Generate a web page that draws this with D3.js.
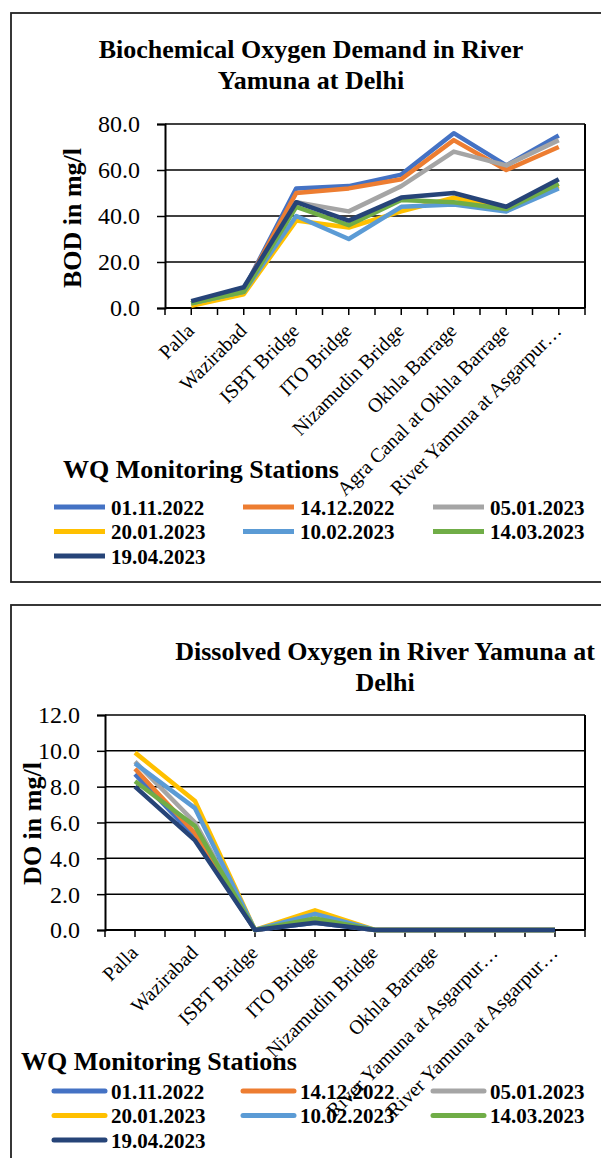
<!DOCTYPE html>
<html>
<head>
<meta charset="utf-8">
<script src="https://cdn.jsdelivr.net/npm/d3@7"></script>
<style>
  html, body { margin: 0; padding: 0; background: #fff; overflow: hidden; }
  text { font-family: "Liberation Serif", "Times New Roman", serif; fill: #000; }
</style>
</head>
<body>
<div id="root"></div>
<script>
const width = 601;
const height = 1158;

// sampling dates (legend)
const dates = ['01.11.2022', '14.12.2022', '05.01.2023', '20.01.2023', '10.02.2023', '14.03.2023', '19.04.2023'];
const colors = ['#4472C4', '#ED7D31', '#A5A5A5', '#FFC000', '#5B9BD5', '#70AD47', '#264478'];

// BOD chart
const bodStations = ['Palla', 'Wazirabad', 'ISBT Bridge', 'ITO Bridge', 'Nizamudin Bridge',
    'Okhla Barrage', 'Agra Canal at Okhla Barrage', 'River Yamuna at Asgarpur\u2026'];
const bod01Nov22 = [2, 8, 52, 53, 58, 76, 62, 75];
const bod14Dec22 = [2, 8, 50, 52, 56, 73, 60, 70];
const bod05Jan23 = [2, 8, 46, 42, 53, 68, 62, 73];
const bod20Jan23 = [1, 6, 38, 35, 42, 48, 43, 53];
const bod10Feb23 = [2, 7, 40, 30, 44, 45, 42, 52];
const bod14Mar23 = [2, 7, 44, 36, 47, 46, 43, 54];
const bod19Apr23 = [3, 9, 46, 38, 48, 50, 44, 56];
const bodTicks = [0, 20, 40, 60, 80];

// DO chart
const doStations = ['Palla', 'Wazirabad', 'ISBT Bridge', 'ITO Bridge', 'Nizamudin Bridge',
    'Okhla Barrage', 'River Yamuna at Asgarpur\u2026', 'River Yamuna at Asgarpur\u2026'];
const do01Nov22 = [8.7, 5.2, 0, 0.4, 0, 0, 0, 0];
const do14Dec22 = [9.0, 5.4, 0, 0.5, 0, 0, 0, 0];
const do05Jan23 = [9.4, 6.0, 0, 0.5, 0, 0, 0, 0];
const do20Jan23 = [9.9, 7.2, 0, 1.1, 0, 0, 0, 0];
const do10Feb23 = [9.3, 6.8, 0, 0.9, 0, 0, 0, 0];
const do14Mar23 = [8.3, 5.8, 0, 0.65, 0, 0, 0, 0];
const do19Apr23 = [8.0, 5.0, 0, 0.4, 0, 0, 0, 0];
const doTicks = [0, 2, 4, 6, 8, 10, 12];

const svg = d3.select('#root')
    .append('svg')
    .attr('width', width)
    .attr('height', height);

function drawChart(cfg) {
    const g = svg.append('g');

    // outer chart frame (right side runs off the page)
    g.append('rect')
        .attr('x', cfg.frame.x)
        .attr('y', cfg.frame.y)
        .attr('width', 700)
        .attr('height', cfg.frame.h)
        .attr('fill', 'none')
        .attr('stroke', '#222')
        .attr('stroke-width', 1.8);

    // title
    const title = g.append('text')
        .attr('text-anchor', 'middle')
        .attr('font-weight', 'bold')
        .attr('font-size', 26);
    cfg.title.forEach((t, i) => {
        title.append('tspan')
            .attr('x', cfg.titleX)
            .attr('y', cfg.titleY + i * 31)
            .text(t);
    });

    const x = d3.scaleBand()
        .domain(d3.range(cfg.stations.length))
        .range([cfg.plot.l, cfg.plot.r]);
    const y = d3.scaleLinear()
        .domain(cfg.yDomain)
        .range([cfg.plot.b, cfg.plot.t]);

    // gridlines
    g.append('g')
        .selectAll('line')
        .data(cfg.ticks)
        .join('line')
        .attr('x1', cfg.plot.l)
        .attr('x2', cfg.plot.r)
        .attr('y1', d => y(d))
        .attr('y2', d => y(d))
        .attr('stroke', '#000')
        .attr('stroke-width', 1.5);

    // y axis
    const yAxis = g.append('g')
        .attr('transform', `translate(${cfg.plot.l},0)`)
        .call(d3.axisLeft(y).tickValues(cfg.ticks).tickFormat(d3.format('.1f')).tickSize(8).tickPadding(17));
    yAxis.select('.domain').attr('stroke', '#000').attr('stroke-width', 2);
    yAxis.selectAll('.tick line').attr('stroke', '#000').attr('stroke-width', 1.5);
    yAxis.selectAll('.tick text')
        .attr('font-family', '"Liberation Serif", serif')
        .attr('font-size', 24)
        .attr('fill', '#000')
        .attr('dy', '0.33em');

    // right border of plot area
    g.append('line')
        .attr('x1', cfg.plot.r).attr('x2', cfg.plot.r)
        .attr('y1', cfg.plot.t).attr('y2', cfg.plot.b)
        .attr('stroke', '#000')
        .attr('stroke-width', 2);

    // x axis: ticks at category edges and centres
    const xTickPos = d3.range(cfg.stations.length * 2 + 1)
        .map(i => cfg.plot.l + i * x.bandwidth() / 2);
    g.append('line')
        .attr('x1', cfg.plot.l).attr('x2', cfg.plot.r)
        .attr('y1', cfg.plot.b).attr('y2', cfg.plot.b)
        .attr('stroke', '#000')
        .attr('stroke-width', 2);
    g.append('g')
        .selectAll('line')
        .data(xTickPos)
        .join('line')
        .attr('x1', d => d).attr('x2', d => d)
        .attr('y1', cfg.plot.b).attr('y2', cfg.plot.b + 7)
        .attr('stroke', '#000')
        .attr('stroke-width', 1.5);

    g.append('g')
        .selectAll('text')
        .data(cfg.stations)
        .join('text')
        .attr('text-anchor', 'end')
        .attr('font-size', 20)
        .attr('transform', (d, i) => `translate(${x(i) + x.bandwidth() / 2 + 4},${cfg.plot.b + 24}) rotate(-45)`)
        .text(d => d);

    // y axis title
    g.append('text')
        .attr('text-anchor', 'middle')
        .attr('font-weight', 'bold')
        .attr('font-size', 26)
        .attr('transform', `translate(${cfg.yTitleX},${(cfg.plot.t + cfg.plot.b) / 2 + cfg.yTitleShift}) rotate(-90)`)
        .text(cfg.yTitle);

    // series lines
    const line = d3.line()
        .x((d, i) => x(i) + x.bandwidth() / 2)
        .y(d => y(d))
        .curve(d3.curveLinear);
    g.append('g')
        .selectAll('path')
        .data(cfg.series)
        .join('path')
        .attr('d', d => line(d))
        .attr('fill', 'none')
        .attr('stroke', (d, i) => colors[i])
        .attr('stroke-width', 4.5)
        .attr('stroke-linejoin', 'round');

    // legend
    g.append('text')
        .attr('x', cfg.legend.titleX)
        .attr('y', cfg.legend.titleY)
        .attr('font-weight', 'bold')
        .attr('font-size', 26)
        .text('WQ Monitoring Stations');

    const colX = [54, 243, 433];
    const items = g.append('g')
        .selectAll('g')
        .data(dates)
        .join('g')
        .attr('transform', (d, i) => `translate(${colX[i % 3]},${cfg.legend.rowY + Math.floor(i / 3) * 24.5})`);
    items.append('line')
        .attr('x1', 0).attr('x2', 51)
        .attr('stroke', (d, i) => colors[i])
        .attr('stroke-width', 5)
        .attr('stroke-linecap', cfg.legend.cap);
    items.append('text')
        .attr('x', 57)
        .attr('y', 7.5)
        .attr('font-weight', 'bold')
        .attr('font-size', 21)
        .text(d => d);
}

drawChart({
    frame: {x: 11, y: 13, h: 569},
    title: ['Biochemical Oxygen Demand in River', 'Yamuna at Delhi'],
    titleX: 311,
    titleY: 58,
    stations: bodStations,
    series: [bod01Nov22, bod14Dec22, bod05Jan23, bod20Jan23, bod10Feb23, bod14Mar23, bod19Apr23],
    yDomain: [0, 80],
    ticks: bodTicks,
    plot: {l: 165, r: 585, t: 124, b: 308},
    yTitle: 'BOD in mg/l',
    yTitleX: 81,
    yTitleShift: 2,
    legend: {titleX: 63, titleY: 478, rowY: 507, cap: 'butt'}
});

drawChart({
    frame: {x: 11, y: 605, h: 700},
    title: ['Dissolved Oxygen in River Yamuna at', 'Delhi'],
    titleX: 385,
    titleY: 660,
    stations: doStations,
    series: [do01Nov22, do14Dec22, do05Jan23, do20Jan23, do10Feb23, do14Mar23, do19Apr23],
    yDomain: [0, 12],
    ticks: doTicks,
    plot: {l: 105, r: 585, t: 715, b: 930},
    yTitle: 'DO in mg/l',
    yTitleX: 41,
    yTitleShift: 1,
    legend: {titleX: 21, titleY: 1070, rowY: 1091, cap: 'round'}
});
</script>
</body>
</html>
